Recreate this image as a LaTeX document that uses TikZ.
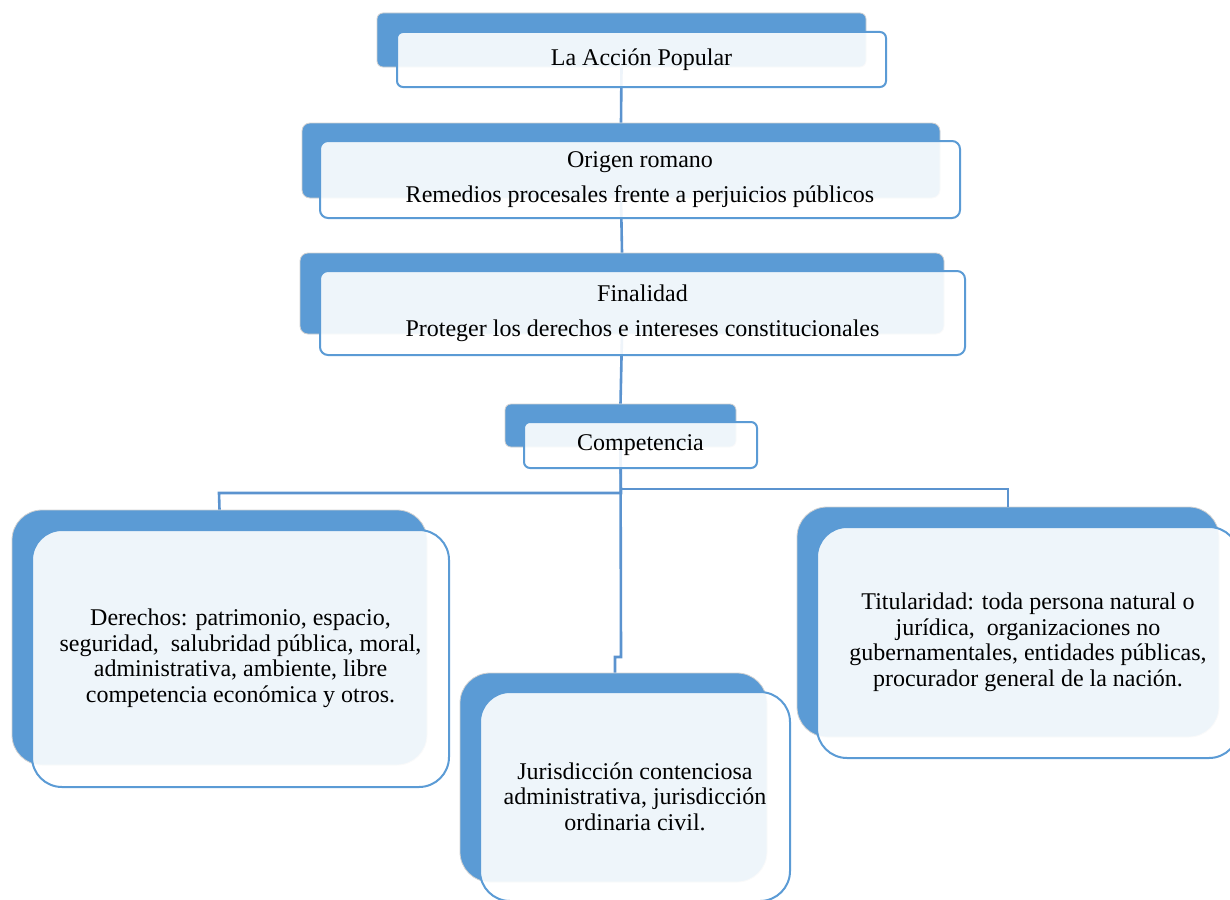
\documentclass[tikz,border=0pt]{standalone}
\usepackage{fontspec}
\setmainfont{Liberation Serif}
\definecolor{accent}{HTML}{5B9BD5}
\definecolor{linkc}{HTML}{5B93CF}
\begin{document}
\begin{tikzpicture}[x=1pt,y=-1pt,
  backbox/.style={draw=black!18, line width=0.8pt, fill=accent, rounded corners=#1, inner sep=0pt},
  backbox/.default=6pt,
  frontbox/.style={draw=accent, line width=2pt, fill=white, fill opacity=0.9, text opacity=1,
    rounded corners=#1, inner sep=0pt, align=center, font=\fontsize{24}{25.5}\selectfont},
  frontbox/.default=6pt,
  link/.style={draw=linkc, line width=2.6pt}]
\useasboundingbox (0,0) rectangle (1230,899);
% connectors (drawn first, behind the boxes)
\coordinate (j1) at (621,493);
\coordinate (j2) at (219,493);
\coordinate (j3) at (621,489);
\coordinate (j4) at (1008,489);
\coordinate (j5) at (621,657);
\coordinate (j6) at (615,657);
% back boxes
\node[backbox, minimum width=489pt, minimum height=54pt] (b1) at (621.5,40) {};
\node[backbox=8pt, minimum width=638pt, minimum height=75pt] (b2) at (621,160.5) {};
\node[backbox=8pt, minimum width=644pt, minimum height=81pt] (b3) at (622,293.5) {};
\node[backbox, minimum width=231pt, minimum height=43pt] (b4) at (620.5,425.5) {};
\node[backbox=30pt, minimum width=415pt, minimum height=255pt] (b5) at (219.5,637.5) {};
\node[backbox=30pt, minimum width=307pt, minimum height=209pt] (b6) at (613.5,777.5) {};
\node[backbox=30pt, minimum width=422pt, minimum height=230pt] (b7) at (1008,622) {};
% links
\draw[link] (b1.south) -- (b2.north);
\draw[link] (b2.south) -- (b3.north);
\draw[link] (b3.south) -- (b4.north);
\draw[link] (b4.south) -- (j1) -- (j2) -- (b5.north);
\draw[link] (j3) -- (j4) -- (b7.north);
\draw[link] (b4.south) -- (j5) -- (j6) -- (j6 |- b6.north);
% front boxes
\node[frontbox, minimum width=489pt, minimum height=55pt] (f1) at (641.5,59.5) {La Acción Popular};
\node[frontbox=8pt, minimum width=640pt, minimum height=77pt] (f2) at (640,179.5)
  {Origen romano\\[10pt]Remedios procesales frente a perjuicios públicos};
\node[frontbox=8pt, minimum width=645pt, minimum height=84pt] (f3) at (642.5,313)
  {Finalidad\\[9.5pt]Proteger los derechos e intereses constitucionales};
\node[frontbox, minimum width=233pt, minimum height=46pt] (f4) at (640.5,445) {Competencia};
\node[frontbox=30pt, minimum width=417pt, minimum height=257pt] (f5) at (240.5,658.5)
  {Derechos: patrimonio, espacio,\\seguridad,\ \ salubridad pública, moral,\\administrativa, ambiente, libre\\competencia económica y otros.};
\node[frontbox=30pt, minimum width=310pt, minimum height=209pt] (f6) at (635,796.5)
  {Jurisdicción contenciosa\\administrativa, jurisdicción\\ordinaria civil.};
\node[frontbox=30pt, minimum width=422pt, minimum height=231pt] (f7) at (1028,642.5)
  {Titularidad: toda persona natural o\\jurídica,\ \ organizaciones no\\gubernamentales, entidades públicas,\\procurador general de la nación.};
\end{tikzpicture}
\end{document}
